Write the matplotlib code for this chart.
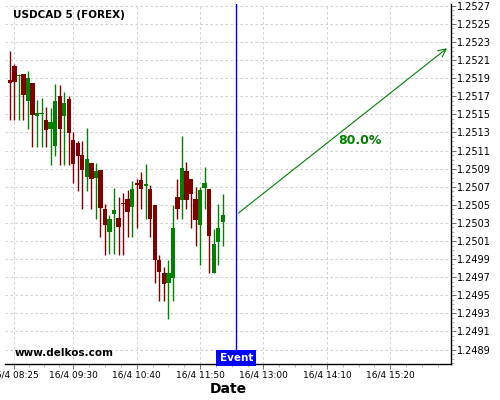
import numpy as np
import pandas as pd
import matplotlib
matplotlib.use('Agg')
import matplotlib.pyplot as plt
import matplotlib.dates as mdates
import matplotlib.ticker as ticker

# 5 minute candles, USDCAD 16/4
opens = [1.25188, 1.25204, 1.25192, 1.25195, 1.25165, 1.25185, 1.25148, 1.25150,
         1.25144, 1.25134, 1.25115, 1.25170, 1.25148, 1.25167, 1.25122, 1.25118,
         1.25105, 1.25081, 1.25096, 1.25080, 1.25088, 1.25045, 1.25020, 1.25040,
         1.25035, 1.25052, 1.25056, 1.25048, 1.25074, 1.25077, 1.25071, 1.25067,
         1.25050, 1.24989, 1.24975, 1.24964, 1.24969, 1.25059, 1.25055, 1.25087,
         1.25078, 1.25056, 1.25028, 1.25069, 1.25068, 1.24975, 1.25009, 1.25031]
highs = [1.25220, 1.25206, 1.25195, 1.25195, 1.25198, 1.25185, 1.25166, 1.25168,
         1.25158, 1.25157, 1.25184, 1.25182, 1.25175, 1.25170, 1.25130, 1.25121,
         1.25120, 1.25135, 1.25096, 1.25096, 1.25089, 1.25051, 1.25039, 1.25069,
         1.25059, 1.25063, 1.25066, 1.25076, 1.25078, 1.25086, 1.25095, 1.25072,
         1.25050, 1.24994, 1.24981, 1.24989, 1.25050, 1.25079, 1.25126, 1.25097,
         1.25078, 1.25070, 1.25070, 1.25092, 1.25068, 1.25023, 1.25051, 1.25062]
lows = [1.25144, 1.25144, 1.25144, 1.25144, 1.25134, 1.25114, 1.25114, 1.25114,
        1.25114, 1.25094, 1.25104, 1.25094, 1.25094, 1.25094, 1.25074, 1.25065,
        1.25045, 1.25065, 1.25045, 1.25034, 1.25014, 1.24994, 1.24996, 1.24996,
        1.24994, 1.24994, 1.25014, 1.25014, 1.25024, 1.25045, 1.25034, 1.25014,
        1.24964, 1.24944, 1.24944, 1.24924, 1.24944, 1.25034, 1.25034, 1.25045,
        1.25024, 1.25004, 1.24984, 1.25045, 1.24975, 1.24975, 1.24984, 1.25004]
closes = [1.25185, 1.25186, 1.25194, 1.25171, 1.25190, 1.25149, 1.25151, 1.25152,
          1.25133, 1.25141, 1.25165, 1.25134, 1.25162, 1.25129, 1.25095, 1.25104,
          1.25088, 1.25101, 1.25079, 1.25087, 1.25046, 1.25028, 1.25034, 1.25044,
          1.25025, 1.25051, 1.25042, 1.25068, 1.25072, 1.25067, 1.25073, 1.25034,
          1.24989, 1.24976, 1.24962, 1.24975, 1.25024, 1.25045, 1.25091, 1.25055,
          1.25062, 1.25033, 1.25066, 1.25074, 1.25015, 1.25007, 1.25024, 1.25039]
times = pd.date_range('2018-04-16 08:20', periods=len(opens), freq='5min')

event_time = pd.Timestamp('2018-04-16 12:30')
target_time = pd.Timestamp('2018-04-16 16:25')
target_price = 1.25225
probability = "80.0%"
label_time = pd.Timestamp('2018-04-16 14:46')
label_price = 1.25121

tick_times = ['08:25', '09:30', '10:40', '11:50', '13:00', '14:10', '15:20']
tick_labels = ['16/4 ' + t for t in tick_times]
y_ticks = np.round(np.arange(1.2489, 1.25275, 0.0002), 4)

fig = plt.figure(figsize=(5, 4), dpi=100)
ax = fig.add_axes([0.01, 0.09, 0.892, 0.9])

x = mdates.date2num(times)
o = np.array(opens)
c = np.array(closes)
up = c >= o
cols = np.where(up, '#008000', '#800000')
w = 5 / 1440 * 0.95

ax.vlines(x, lows, highs, colors=cols, lw=1.0, zorder=3)
bottoms = np.minimum(o, c)
heights = np.maximum(np.abs(c - o), 0.000012)
ax.bar(x, heights, width=w, bottom=bottoms, color=cols, linewidth=0, zorder=4)

# event marker
ex = mdates.date2num(event_time)
ax.axvline(ex, color='#0000ff', lw=1.0, zorder=5)
ax.text(ex, 1.24874 + 0.00001, 'Event', color='white', fontsize=7.5, fontweight='bold',
        ha='center', va='bottom', zorder=6,
        bbox=dict(boxstyle='square,pad=0.3', fc='#0000ff', ec='none'))

# forecast arrow
ax.annotate('', xy=(mdates.date2num(target_time), target_price),
            xytext=(ex, closes[-1]),
            arrowprops=dict(arrowstyle='->', color='#008000', lw=0.8, mutation_scale=14),
            zorder=6)
ax.text(mdates.date2num(label_time), label_price, probability, color='#008000',
        fontsize=9, fontweight='bold', ha='center', va='center')

ax.text(0.018, 0.97, 'USDCAD 5 (FOREX)', transform=ax.transAxes, fontsize=7.5,
        fontweight='bold', ha='left', va='center')
ax.text(0.022, 0.03, 'www.delkos.com', transform=ax.transAxes, fontsize=7.5,
        fontweight='bold', ha='left', va='center')

# axes
ax.set_xlim(mdates.date2num(pd.Timestamp('2018-04-16 08:14:40')),
            mdates.date2num(pd.Timestamp('2018-04-16 16:27')))
ax.set_ylim(1.24874, 1.25272)

xt = [mdates.date2num(pd.Timestamp('2018-04-16 ' + t)) for t in tick_times]
ax.set_xticks(xt)
ax.set_xticklabels(tick_labels, fontsize=6.5)
minor = []
for a, b in zip(xt[:-1], xt[1:]):
    minor += list(np.linspace(a, b, 5)[1:-1])
step = (xt[-1] - xt[-2]) / 4
minor += [xt[-1] + step * k for k in (1, 2, 3)]
ax.set_xticks(minor, minor=True)

ax.yaxis.tick_right()
ax.set_yticks(y_ticks)
ax.set_yticklabels(['%.4f' % v for v in y_ticks], fontsize=7)
ax.yaxis.set_minor_locator(ticker.AutoMinorLocator(4))
ax.tick_params(axis='both', which='major', length=3.5, width=0.6, pad=1, color='#555555')
ax.tick_params(axis='both', which='minor', length=2.5, width=0.5, color='#999999')

ax.grid(True, which='major', color='#c8c8c8', linestyle=(0, (3, 3)), lw=0.6)
ax.set_axisbelow(True)
ax.spines['top'].set_visible(False)
ax.spines['left'].set_visible(False)
ax.spines['right'].set_linewidth(1.0)
ax.spines['bottom'].set_linewidth(1.0)

ax.set_xlabel('Date', fontsize=10, fontweight='bold', labelpad=2)

fig.savefig('out.png', dpi=100)
